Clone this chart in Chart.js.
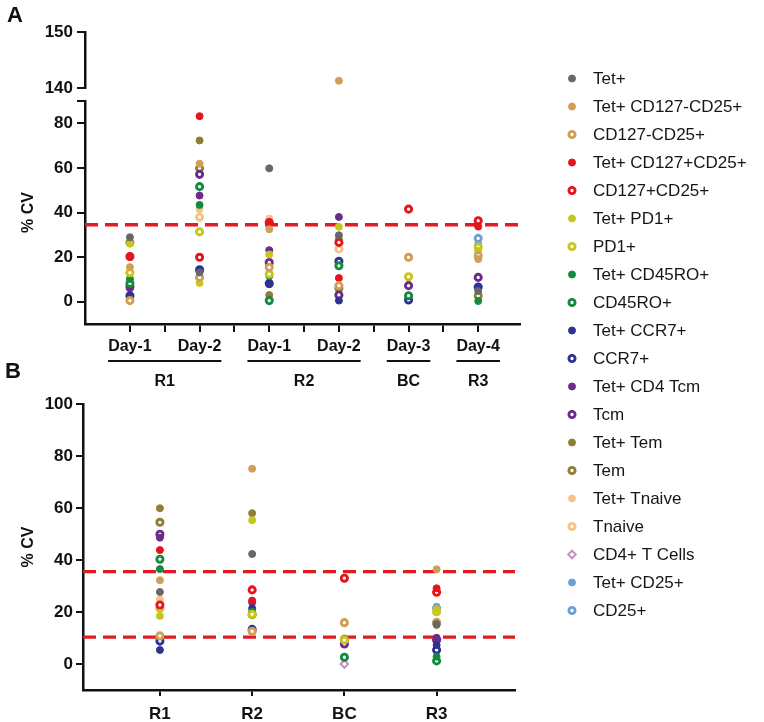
<!DOCTYPE html>
<html>
<head>
<meta charset="utf-8">
<script src="https://cdn.jsdelivr.net/npm/chart.js@4.4.0/dist/chart.umd.min.js"></script>
<style>
html,body{margin:0;padding:0;background:#ffffff;overflow:hidden;}
#wrap{position:relative;width:764px;height:722px;}
#wrap canvas{position:absolute;left:0;top:0;}
</style>
</head>
<body>
<div id="wrap">
<canvas id="cAtop" width="764" height="722"></canvas>
<canvas id="cA" width="764" height="722"></canvas>
<canvas id="cB" width="764" height="722"></canvas>
</div>
<script>
// ---------------- data ----------------
const seriesNames = ['Tet+','Tet+ CD127-CD25+','CD127-CD25+','Tet+ CD127+CD25+','CD127+CD25+',
  'Tet+ PD1+','PD1+','Tet+ CD45RO+','CD45RO+','Tet+ CCR7+','CCR7+','Tet+ CD4 Tcm','Tcm',
  'Tet+ Tem','Tem','Tet+ Tnaive','Tnaive','CD4+ T Cells','Tet+ CD25+','CD25+'];

// Panel A categories (x axis) and their run group
const dayLabels  = ['Day-1','Day-2','Day-1','Day-2','Day-3','Day-4'];
const dayGroups  = ['R1','R1','R2','R2','BC','R3'];
// Panel B categories
const runLabels  = ['R1','R2','BC','R3'];

const yTicksAtop = [140, 150];
const yTicksA    = [0, 20, 40, 60, 80, 90];
const yTicksB    = [0, 20, 40, 60, 80, 100];
const cutoffA    = [34.5];
const cutoffB    = [35.5, 10.3];

// Panel A values: R1 Day-1, R1 Day-2, R2 Day-1, R2 Day-2, BC Day-3, R3 Day-4
const A_tet          = [28.9, 13.1, 59.8, 29.8, null, 4.8];
const A_tetCD127nCD25 = [15.5, 61.9, 32.5, 141.3, null, 19.1];
const A_CD127nCD25   = [0.5, 10.9, 15.4, 7.2, 19.9, 20.6];
const A_tetCD127pCD25 = [20.0, 83.2, 35.0, 10.6, null, 33.7];
const A_CD127pCD25   = [20.3, 19.9, 35.5, 26.6, 41.5, 36.3];
const A_tetPD1       = [26.0, 8.4, 21.2, 33.6, null, 22.8];
const A_PD1          = [13.0, 31.3, 12.4, null, 11.2, 24.5];
const A_tetCD45RO    = [10.2, 43.4, 11.5, null, null, 0.3];
const A_CD45RO       = [8.2, 51.6, 0.5, 16.1, 2.7, null];
const A_tetCCR7      = [2.0, 14.0, 7.9, 0.5, null, 6.4];
const A_CCR7         = [2.7, 14.3, 8.2, 18.1, 0.8, 6.6];
const A_tetTcm       = [6.0, 47.6, 23.1, 38.0, null, null];
const A_Tcm          = [6.7, 57.1, 17.6, 3.0, 7.2, 10.9];
const A_tetTem       = [null, 72.3, 3.0, 28.0, null, null];
const A_Tem          = [26.5, 59.8, null, 6.0, null, 2.7];
const A_tetTnaive    = [null, 41.5, 37.3, null, null, null];
const A_Tnaive       = [null, 37.9, null, 23.6, null, null];
const A_CD4T         = [null, null, null, null, null, null];
const A_tetCD25      = [null, null, null, null, null, 25.8];
const A_CD25         = [null, null, null, null, null, 28.4];

// Panel B values: R1, R2, BC, R3
const B_tet          = [27.7, 42.3, null, 15.4];
const B_tetCD127nCD25 = [32.2, 75.1, null, 36.4];
const B_CD127nCD25   = [10.8, 12.6, 15.9, 16.0];
const B_tetCD127pCD25 = [43.8, 24.4, null, 29.1];
const B_CD127pCD25   = [22.7, 28.5, 33.0, 27.6];
const B_tetPD1       = [18.5, 55.3, null, 21.1];
const B_PD1          = [21.4, 19.1, 9.2, 20.1];
const B_tetCD45RO    = [36.5, 20.1, null, 2.8];
const B_CD45RO       = [40.3, 19.0, 2.6, 1.2];
const B_tetCCR7      = [5.4, 21.4, null, 7.3];
const B_CCR7         = [8.8, 13.3, null, 5.4];
const B_tetTcm       = [48.6, 23.7, null, 10.1];
const B_Tcm          = [49.9, null, 7.7, 9.2];
const B_tetTem       = [59.9, 58.0, null, 15.0];
const B_Tem          = [54.5, null, 9.5, 15.8];
const B_tetTnaive    = [24.9, null, null, null];
const B_Tnaive       = [null, null, null, null];
const B_CD4T         = [null, null, 0.0, 9.5];
const B_tetCD25      = [null, null, null, 22.0];
const B_CD25         = [null, null, null, 21.4];

// ---------------- styles ----------------
const seriesColors = ['#67676b','#d09e55','#d09e55','#e3141c','#e3141c','#c8c61a','#c8c61a',
  '#148a3e','#148a3e','#2f3293','#2f3293','#6b2a8c','#6b2a8c','#8f7f35','#8f7f35',
  '#f6c387','#f6c387','#c990c8','#6f9fd8','#6f9fd8'];
const seriesHollow = [false,false,true,false,true,false,true,false,true,false,true,false,true,
  false,true,false,true,true,false,true];
const seriesShape = seriesNames.map(n => n === 'CD4+ T Cells' ? 'rectRot' : 'circle');

const valuesA = [A_tet,A_tetCD127nCD25,A_CD127nCD25,A_tetCD127pCD25,A_CD127pCD25,A_tetPD1,A_PD1,
  A_tetCD45RO,A_CD45RO,A_tetCCR7,A_CCR7,A_tetTcm,A_Tcm,A_tetTem,A_Tem,A_tetTnaive,A_Tnaive,
  A_CD4T,A_tetCD25,A_CD25];
const valuesB = [B_tet,B_tetCD127nCD25,B_CD127nCD25,B_tetCD127pCD25,B_CD127pCD25,B_tetPD1,B_PD1,
  B_tetCD45RO,B_CD45RO,B_tetCCR7,B_CCR7,B_tetTcm,B_Tcm,B_tetTem,B_Tem,B_tetTnaive,B_Tnaive,
  B_CD4T,B_tetCD25,B_CD25];

const FONT = "Arial, 'Liberation Sans', Helvetica, sans-serif";
const RED = '#e11b22';
const INK = '#111111';

// panel A x: category i sits at position 2i+1 (spacer ticks between)
const posA = i => 2 * i + 1;
const posB = i => i + 1;
const XA_MIN = -0.29, XA_MAX = 2 * dayLabels.length + 0.2;
const XB_MIN = 0.166, XB_MAX = runLabels.length + 0.85;

function pointsFrom(values, posFn, keep) {
  const pts = [];
  values.forEach((v, i) => { if (v !== null && keep(v)) pts.push({x: posFn(i), y: v}); });
  return pts;
}
function markerStyle(s) {
  const hollow = seriesHollow[s];
  const diamond = seriesShape[s] === 'rectRot';
  const r = diamond ? 3.8 : (hollow ? 3.1 : 3.5);
  return {
    pointStyle: seriesShape[s],
    pointRadius: r,
    pointHoverRadius: r,
    pointBorderWidth: hollow ? (diamond ? 2 : 2.9) : 1,
    pointBackgroundColor: hollow ? '#ffffff' : seriesColors[s],
    pointBorderColor: seriesColors[s]
  };
}
function seriesSets(valuesList, posFn, keep) {
  return seriesNames.map((name, s) => Object.assign({
    label: name, type: 'scatter',
    data: pointsFrom(valuesList[s], posFn, keep)
  }, markerStyle(s)));
}
function cutoffSets(cuts, xmin, xmax) {
  return cuts.map(c => ({
    type: 'line', label: 'cutoff', data: [{x: xmin, y: c}, {x: xmax, y: c}],
    borderColor: RED, borderWidth: 3.3, borderDash: [13, 7], pointRadius: 0,
    fill: false, order: 100, borderCapStyle: 'butt'
  }));
}

const tickFont = {family: FONT, size: 17, weight: 'bold'};

function yAxis(min, max, ticksArr, width, showTitle, tickLen, pad) {
  return {
    type: 'linear', min: min, max: max,
    afterBuildTicks: s => { s.ticks = ticksArr.map(v => ({value: v})); },
    afterFit: s => { s.width = width; },
    ticks: {font: tickFont, color: INK, padding: pad,
      callback: v => (v === 90 ? '' : String(v))},
    grid: {display: true, drawOnChartArea: false, drawTicks: true, tickLength: tickLen,
      color: INK, lineWidth: 2},
    border: {display: true, color: INK, width: 2.5},
    title: {display: showTitle, text: '% CV', color: INK,
      font: {family: FONT, size: 16, weight: 'bold'}, padding: {top: 19, bottom: 0}}
  };
}

const baseOpts = {
  responsive: false, animation: false, devicePixelRatio: 1,
  plugins: {legend: {display: false}, tooltip: {enabled: false}},
  events: []
};

// ---------------- plugins ----------------
const groupPlugin = {
  id: 'groupLabels',
  afterDraw(chart) {
    const xs = chart.scales.x, ctx = chart.ctx;
    const base = chart.chartArea.bottom;
    ctx.save();
    const spans = [];
    dayGroups.forEach((g, i) => {
      const last = spans[spans.length - 1];
      if (last && last.name === g) last.end = i; else spans.push({name: g, start: i, end: i});
    });
    ctx.font = 'bold 16px ' + FONT;
    spans.forEach(sp => {
      const x1 = xs.getPixelForValue(posA(sp.start)) - ctx.measureText(dayLabels[sp.start]).width / 2;
      const x2 = xs.getPixelForValue(posA(sp.end)) + ctx.measureText(dayLabels[sp.end]).width / 2;
      ctx.strokeStyle = INK; ctx.lineWidth = 2;
      ctx.beginPath(); ctx.moveTo(x1, base + 37); ctx.lineTo(x2, base + 37); ctx.stroke();
      ctx.fillStyle = INK; ctx.textAlign = 'center'; ctx.textBaseline = 'middle';
      ctx.fillText(sp.name, (x1 + x2) / 2, base + 58);
    });
    ctx.restore();
  }
};

function drawMarker(ctx, s, x, y) {
  const st = markerStyle(s);
  ctx.save();
  ctx.fillStyle = st.pointBackgroundColor;
  ctx.strokeStyle = st.pointBorderColor;
  ctx.lineWidth = st.pointBorderWidth;
  const r = st.pointRadius;
  ctx.beginPath();
  if (st.pointStyle === 'rectRot') {
    ctx.moveTo(x - r, y); ctx.lineTo(x, y - r); ctx.lineTo(x + r, y); ctx.lineTo(x, y + r); ctx.closePath();
  } else {
    ctx.arc(x, y, r, 0, Math.PI * 2);
  }
  ctx.fill(); ctx.stroke();
  ctx.restore();
}

const legendPlugin = {
  id: 'sideLegend',
  afterDraw(chart) {
    const ctx = chart.ctx;
    ctx.save();
    ctx.font = '17px ' + FONT;
    ctx.textAlign = 'left'; ctx.textBaseline = 'middle';
    seriesNames.forEach((name, s) => {
      const y = 78.5 + s * 28.0;
      drawMarker(ctx, s, 572, y);
      ctx.fillStyle = '#161616';
      ctx.fillText(name, 593, y + 1);
    });
    ctx.fillStyle = INK;
    ctx.font = 'bold 22px ' + FONT;
    ctx.textBaseline = 'alphabetic';
    ctx.fillText('A', 7, 22);
    ctx.fillText('B', 5, 378);
    ctx.restore();
  }
};

// ---------------- chart A (upper broken segment) ----------------
new Chart(document.getElementById('cAtop'), {
  type: 'scatter',
  data: {datasets: seriesSets(valuesA, posA, v => v >= 140)},
  options: Object.assign({}, baseOpts, {
    layout: {padding: {left: 0, top: 32, right: 244, bottom: 722 - 88}},
    scales: {
      x: {type: 'linear', min: XA_MIN, max: XA_MAX, display: false},
      y: yAxis(140, 150, yTicksAtop, 85, false, 8, 4)
    }
  })
});

// ---------------- chart A (main segment) ----------------
new Chart(document.getElementById('cA'), {
  type: 'scatter',
  data: {datasets: seriesSets(valuesA, posA, v => v <= 90).concat(cutoffSets(cutoffA, XA_MIN, XA_MAX))},
  options: Object.assign({}, baseOpts, {
    layout: {padding: {left: 0, top: 101, right: 244, bottom: 722 - 324 - 70}},
    scales: {
      x: {
        type: 'linear', min: XA_MIN, max: XA_MAX,
        afterBuildTicks: s => {
          s.ticks = Array.from({length: 2 * dayLabels.length - 1}, (_, k) => ({value: k + 1}));
        },
        afterFit: s => { s.height = 70; },
        ticks: {font: {family: FONT, size: 16, weight: 'bold'}, color: INK, padding: 5,
          maxRotation: 0, autoSkip: false,
          callback: v => (v % 2 === 1 ? dayLabels[(v - 1) / 2] : '')},
        grid: {display: true, drawOnChartArea: false, drawTicks: true, tickLength: 8, color: INK, lineWidth: 2},
        border: {display: true, color: INK, width: 2.5}
      },
      y: yAxis(-10, 90, yTicksA, 85, true, 8, 4)
    }
  }),
  plugins: [groupPlugin, legendPlugin]
});

// ---------------- chart B ----------------
new Chart(document.getElementById('cB'), {
  type: 'scatter',
  data: {datasets: seriesSets(valuesB, posB, v => true).concat(cutoffSets(cutoffB, XB_MIN, XB_MAX))},
  options: Object.assign({}, baseOpts, {
    layout: {padding: {left: 0, top: 404, right: 764 - 515, bottom: 0}},
    scales: {
      x: {
        type: 'linear', min: XB_MIN, max: XB_MAX,
        afterBuildTicks: s => { s.ticks = runLabels.map((_, i) => ({value: posB(i)})); },
        afterFit: s => { s.height = 722 - 690; },
        ticks: {font: {family: FONT, size: 17, weight: 'bold'}, color: INK, padding: 8,
          maxRotation: 0, autoSkip: false,
          callback: v => runLabels[v - 1]},
        grid: {display: true, drawOnChartArea: false, drawTicks: true, tickLength: 6, color: INK, lineWidth: 2},
        border: {display: true, color: INK, width: 2.5}
      },
      y: yAxis(-10, 100, yTicksB, 83, true, 7, 3)
    }
  })
});
</script>
</body>
</html>
